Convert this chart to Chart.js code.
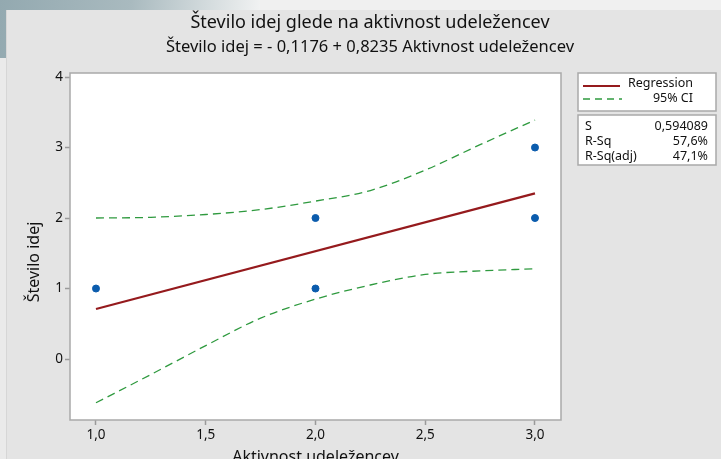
<!DOCTYPE html>
<html>
<head>
<meta charset="utf-8">
<script src="https://cdn.jsdelivr.net/npm/chart.js@4"></script>
<style>
  html, body { margin: 0; padding: 0; background: #e4e4e4; overflow: hidden; }
  canvas { display: block; }
</style>
</head>
<body>
<canvas id="fitChart" width="721" height="459"></canvas>
<script>
// Observed points (Aktivnost udeležencev, Število idej)
const obsX = [1, 2, 2, 3, 3];
const obsY = [1, 2, 1, 3, 2];

// Fitted line
const fitX = [1, 3];
const fitY = [0.71, 2.35];

// 95% CI band
const ciX = [1.0, 1.25, 1.5, 1.75, 2.0, 2.25, 2.5, 2.75, 3.0];
const ciUpper = [2.00, 2.01, 2.05, 2.12, 2.24, 2.39, 2.68, 3.04, 3.39];
const ciLower = [-0.62, -0.22, 0.19, 0.58, 0.85, 1.05, 1.20, 1.25, 1.28];

const xTicks = [1.0, 1.5, 2.0, 2.5, 3.0];
const yTicks = [0, 1, 2, 3, 4];

const titleText = 'Število idej glede na aktivnost udeležencev';
const subtitleText = 'Število idej = - 0,1176 + 0,8235 Aktivnost udeležencev';
const xTitle = 'Aktivnost udeležencev';
const yTitle = 'Število idej';

const statNames = ['S', 'R-Sq', 'R-Sq(adj)'];
const statValues = ['0,594089', '57,6%', '47,1%'];

const FONT = '"Noto Sans", "Open Sans", sans-serif';
const INK = '#111111';
const RED = '#951a1d';
const GREEN = '#2f9a3f';
const BLUE = '#0b5cad';

const toPts = (xs, ys) => xs.map((x, i) => ({ x: x, y: ys[i] }));

const decor = {
    id: 'decor',
    beforeDraw(chart) {
        const c = chart.ctx;
        const a = chart.chartArea;
        c.save();
        // desktop behind the window
        const g = c.createLinearGradient(0, 0, 260, 30);
        g.addColorStop(0, '#93a9b0');
        g.addColorStop(0.5, '#a9babf');
        g.addColorStop(1, '#f2f3f3');
        c.fillStyle = g;
        c.fillRect(0, 0, 721, 459);
        c.fillStyle = '#f0f0f0';
        c.fillRect(260, 0, 461, 10);
        c.fillStyle = '#eaeaea';
        c.fillRect(0, 58, 7, 401);
        c.fillStyle = '#e4e4e4';
        c.fillRect(7, 10, 714, 449);
        c.fillStyle = '#d6d6d6';
        c.fillRect(6, 10, 1, 449);
        // plot area
        c.fillStyle = '#ffffff';
        c.fillRect(a.left, a.top, a.right - a.left, a.bottom - a.top);
        c.restore();
    },
    afterDraw(chart) {
        const c = chart.ctx;
        const a = chart.chartArea;
        c.save();
        c.strokeStyle = '#a9a9a9';
        c.lineWidth = 1.5;
        c.strokeRect(a.left, a.top, a.right - a.left, a.bottom - a.top);

        c.fillStyle = INK;
        c.textAlign = 'center';
        c.textBaseline = 'middle';
        c.font = '18px ' + FONT;
        c.fillText(titleText, 370, 23);
        c.font = '16.5px ' + FONT;
        c.fillText(subtitleText, 370, 47);

        // axis titles
        c.font = '16px ' + FONT;
        c.fillText(xTitle, (a.left + a.right) / 2, 457);
        c.save();
        c.translate(34, 262);
        c.rotate(-Math.PI / 2);
        c.fillText(yTitle, 0, 0);
        c.restore();

        // legend box
        c.fillStyle = '#ffffff';
        c.strokeStyle = '#a9a9a9';
        c.lineWidth = 1.5;
        c.fillRect(578, 73, 138, 38);
        c.strokeRect(578, 73, 138, 38);
        c.fillRect(578, 115, 138, 50);
        c.strokeRect(578, 115, 138, 50);

        c.lineWidth = 2;
        c.strokeStyle = RED;
        c.beginPath(); c.moveTo(583, 86); c.lineTo(620, 86); c.stroke();
        c.strokeStyle = GREEN;
        c.lineWidth = 1.3;
        c.setLineDash([7, 5]);
        c.beginPath(); c.moveTo(583, 99); c.lineTo(622, 99); c.stroke();
        c.setLineDash([]);

        c.fillStyle = INK;
        c.font = '12.5px ' + FONT;
        c.textAlign = 'right';
        c.fillText('Regression', 693, 83);
        c.fillText('95% CI', 693, 98);

        statNames.forEach((name, i) => {
            const y = 126 + i * 15;
            c.textAlign = 'left';
            c.fillText(name, 585, y);
            c.textAlign = 'right';
            c.fillText(statValues[i], 708, y);
        });
        c.restore();
    }
};

const ctx = document.getElementById('fitChart').getContext('2d');

new Chart(ctx, {
    type: 'scatter',
    data: {
        datasets: [
            {
                label: 'Upper CI',
                data: toPts(ciX, ciUpper),
                showLine: true,
                borderColor: GREEN,
                borderWidth: 1.3,
                borderDash: [8, 5],
                pointRadius: 0,
                cubicInterpolationMode: 'monotone'
            },
            {
                label: 'Lower CI',
                data: toPts(ciX, ciLower),
                showLine: true,
                borderColor: GREEN,
                borderWidth: 1.3,
                borderDash: [8, 5],
                pointRadius: 0,
                cubicInterpolationMode: 'monotone'
            },
            {
                label: 'Regression',
                data: toPts(fitX, fitY),
                showLine: true,
                borderColor: RED,
                borderWidth: 2.2,
                pointRadius: 0
            },
            {
                label: 'Data',
                data: toPts(obsX, obsY),
                backgroundColor: BLUE,
                borderColor: BLUE,
                pointRadius: 3.5,
                showLine: false
            }
        ]
    },
    options: {
        responsive: false,
        animation: false,
        layout: { padding: { top: 73, right: 160, bottom: 0, left: 0 } },
        plugins: {
            legend: { display: false },
            title: { display: false },
            tooltip: { enabled: false }
        },
        scales: {
            x: {
                type: 'linear',
                min: 0.8816,
                max: 3.1185,
                afterFit: (s) => { s.height = 39; },
                afterBuildTicks: (s) => { s.ticks = xTicks.map(v => ({ value: v })); },
                grid: { drawOnChartArea: false, drawTicks: true, tickLength: 5, tickColor: '#9a9a9a', tickWidth: 1.5 },
                border: { display: false },
                ticks: {
                    color: INK,
                    padding: 2,
                    font: { family: FONT, size: 13.5 },
                    callback: (v) => v.toFixed(1).replace('.', ',')
                }
            },
            y: {
                type: 'linear',
                min: -0.865,
                max: 4.057,
                afterFit: (s) => { s.width = 70; },
                afterBuildTicks: (s) => { s.ticks = yTicks.map(v => ({ value: v })); },
                grid: { drawOnChartArea: false, drawTicks: true, tickLength: 5, tickColor: '#9a9a9a', tickWidth: 1.5 },
                border: { display: false },
                ticks: {
                    color: INK,
                    padding: 2,
                    font: { family: FONT, size: 13.5 },
                    callback: (v) => String(v)
                }
            }
        }
    },
    plugins: [decor]
});
</script>
</body>
</html>
